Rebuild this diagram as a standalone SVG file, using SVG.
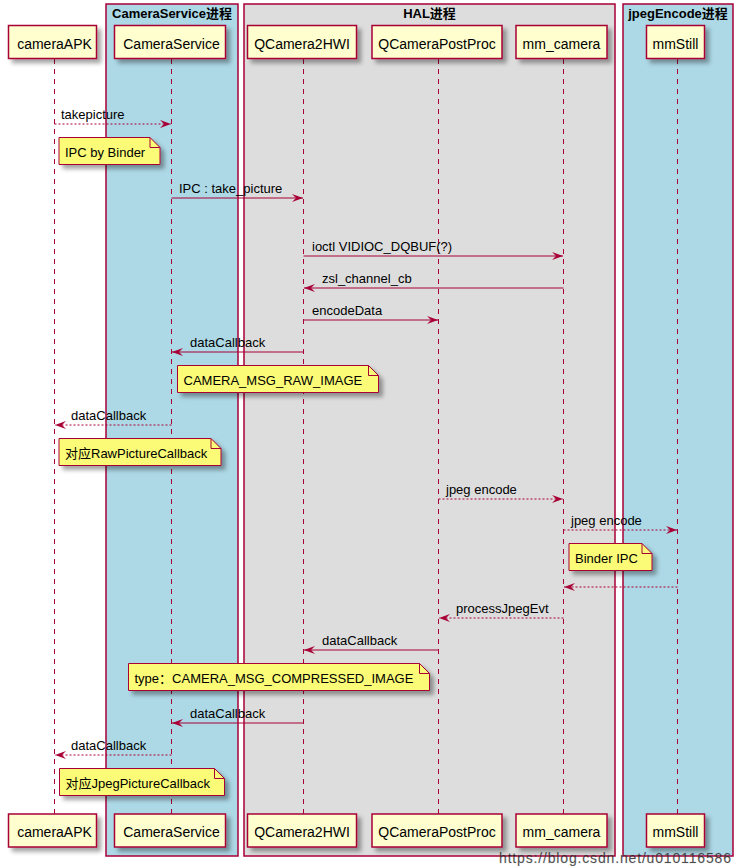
<svg xmlns="http://www.w3.org/2000/svg" width="742" height="866" viewBox="0 0 742 866">
<defs>
<filter id="sh" x="-10%" y="-20%" width="130%" height="160%">
<feGaussianBlur in="SourceAlpha" stdDeviation="2"/>
<feOffset dx="4" dy="4" result="b"/>
<feFlood flood-color="#000" flood-opacity="0.35"/>
<feComposite in2="b" operator="in"/>
<feMerge><feMergeNode/><feMergeNode in="SourceGraphic"/></feMerge>
</filter>
<marker id="ah" viewBox="0 0 12 10" refX="11" refY="5" markerUnits="userSpaceOnUse" markerWidth="12" markerHeight="10" orient="auto">
<path d="M0,1 L11,5 L0,9 L4,5 Z" fill="#A80036"/>
</marker>
</defs>
<style>
text{font-family:"Liberation Sans","Noto Sans CJK SC",sans-serif;fill:#000}
.grp{stroke:#A80036;stroke-width:1.5}
.gt{font-size:13px;font-weight:bold;text-anchor:middle}
.pbox{fill:#FEFECE;stroke:#A80036;stroke-width:1.5}
.pt{font-size:14px;text-anchor:middle}
.life{stroke:#A80036;stroke-width:1;stroke-dasharray:5,5}
.msg{stroke:#A80036;stroke-width:1;fill:none;marker-end:url(#ah)}
.async{stroke-dasharray:2,2}
.ml{font-size:13px}
.note{fill:#FBFB77;stroke:#A80036;stroke-width:1}
.fold{fill:none;stroke:#A80036;stroke-width:1}
.nt{font-size:13px}
</style>
<rect width="742" height="866" fill="#fff"/>
<g id="group-cameraservice">
<rect class="grp" x="106" y="4" width="132" height="852" fill="#ADD8E6"/>
<text class="gt" x="172" y="18">CameraService进程</text>
</g>
<g id="group-hal">
<rect class="grp" x="244" y="4" width="371" height="852" fill="#DDDDDD"/>
<text class="gt" x="429.5" y="18">HAL进程</text>
</g>
<g id="group-jpegencode">
<rect class="grp" x="623" y="4" width="110" height="852" fill="#ADD8E6"/>
<text class="gt" x="678" y="18">jpegEncode进程</text>
</g>
<g id="lifelines">
<line class="life" x1="54.5" y1="59" x2="54.5" y2="814"/>
<line class="life" x1="171.5" y1="59" x2="171.5" y2="814"/>
<line class="life" x1="303.5" y1="59" x2="303.5" y2="814"/>
<line class="life" x1="438.5" y1="59" x2="438.5" y2="814"/>
<line class="life" x1="563.5" y1="59" x2="563.5" y2="814"/>
<line class="life" x1="677.5" y1="59" x2="677.5" y2="814"/>
</g>
<g id="cameraAPK">
<rect class="pbox" filter="url(#sh)" x="8.5" y="25.5" width="88" height="33"/>
<text class="pt" x="54.5" y="48.5">cameraAPK</text>
<rect class="pbox" filter="url(#sh)" x="8.5" y="814" width="88" height="33"/>
<text class="pt" x="54.5" y="837">cameraAPK</text>
</g>
<g id="CameraService">
<rect class="pbox" filter="url(#sh)" x="114.5" y="25.5" width="111" height="33"/>
<text class="pt" x="171.5" y="48.5">CameraService</text>
<rect class="pbox" filter="url(#sh)" x="114.5" y="814" width="111" height="33"/>
<text class="pt" x="171.5" y="837">CameraService</text>
</g>
<g id="QCamera2HWI">
<rect class="pbox" filter="url(#sh)" x="247.5" y="25.5" width="109" height="33"/>
<text class="pt" x="302" y="48.5">QCamera2HWI</text>
<rect class="pbox" filter="url(#sh)" x="247.5" y="814" width="109" height="33"/>
<text class="pt" x="302" y="837">QCamera2HWI</text>
</g>
<g id="QCameraPostProc">
<rect class="pbox" filter="url(#sh)" x="372" y="25.5" width="130" height="33"/>
<text class="pt" x="437" y="48.5">QCameraPostProc</text>
<rect class="pbox" filter="url(#sh)" x="372" y="814" width="130" height="33"/>
<text class="pt" x="437" y="837">QCameraPostProc</text>
</g>
<g id="mm_camera">
<rect class="pbox" filter="url(#sh)" x="516" y="25.5" width="91" height="33"/>
<text class="pt" x="561.5" y="48.5">mm_camera</text>
<rect class="pbox" filter="url(#sh)" x="516" y="814" width="91" height="33"/>
<text class="pt" x="561.5" y="837">mm_camera</text>
</g>
<g id="mmStill">
<rect class="pbox" filter="url(#sh)" x="646.5" y="25.5" width="58" height="33"/>
<text class="pt" x="675.5" y="48.5">mmStill</text>
<rect class="pbox" filter="url(#sh)" x="646.5" y="814" width="58" height="33"/>
<text class="pt" x="675.5" y="837">mmStill</text>
</g>
<g id="connectors">
<line class="msg async" x1="54.5" y1="124" x2="171" y2="124"/>
<text class="ml" x="61" y="119">takepicture</text>
<line class="msg" x1="171.5" y1="198" x2="303" y2="198"/>
<text class="ml" x="179" y="193">IPC : take_picture</text>
<line class="msg" x1="303.5" y1="256" x2="563" y2="256"/>
<text class="ml" x="312" y="251">ioctl VIDIOC_DQBUF(?)</text>
<line class="msg" x1="563.5" y1="288" x2="304" y2="288"/>
<text class="ml" x="322" y="283">zsl_channel_cb</text>
<line class="msg" x1="303.5" y1="320" x2="438" y2="320"/>
<text class="ml" x="312" y="315">encodeData</text>
<line class="msg" x1="303.5" y1="352" x2="172" y2="352"/>
<text class="ml" x="190" y="347">dataCallback</text>
<line class="msg async" x1="171.5" y1="425" x2="55" y2="425"/>
<text class="ml" x="71" y="420">dataCallback</text>
<line class="msg async" x1="438.5" y1="499" x2="563" y2="499"/>
<text class="ml" x="446" y="494">jpeg encode</text>
<line class="msg async" x1="563.5" y1="530" x2="677" y2="530"/>
<text class="ml" x="571" y="525">jpeg encode</text>
<line class="msg async" x1="677.5" y1="587" x2="564" y2="587"/>
<line class="msg async" x1="563.5" y1="618" x2="439" y2="618"/>
<text class="ml" x="456" y="613">processJpegEvt</text>
<line class="msg" x1="438.5" y1="650" x2="304" y2="650"/>
<text class="ml" x="322" y="645">dataCallback</text>
<line class="msg" x1="303.5" y1="723" x2="172" y2="723"/>
<text class="ml" x="190" y="718">dataCallback</text>
<line class="msg async" x1="171.5" y1="755" x2="55" y2="755"/>
<text class="ml" x="71" y="750">dataCallback</text>
</g>
<g id="note-ipc-binder">
<path class="note" filter="url(#sh)" d="M59,137.5 H150 L160,147.5 V164.5 H59 Z"/>
<path class="fold" d="M150,137.5 V147.5 H160"/>
<text class="nt" x="65" y="157">IPC by Binder</text>
</g>
<g id="note-raw-image">
<path class="note" filter="url(#sh)" d="M177.5,365.5 H368.5 L378.5,375.5 V392.5 H177.5 Z"/>
<path class="fold" d="M368.5,365.5 V375.5 H378.5"/>
<text class="nt" x="183.5" y="385">CAMERA_MSG_RAW_IMAGE</text>
</g>
<g id="note-raw-callback">
<path class="note" filter="url(#sh)" d="M59,438.5 H211 L221,448.5 V465.5 H59 Z"/>
<path class="fold" d="M211,438.5 V448.5 H221"/>
<text class="nt" x="65" y="458">对应RawPictureCallback</text>
</g>
<g id="note-binder-ipc">
<path class="note" filter="url(#sh)" d="M569,543.5 H642 L652,553.5 V570.5 H569 Z"/>
<path class="fold" d="M642,543.5 V553.5 H652"/>
<text class="nt" x="575" y="563">Binder IPC</text>
</g>
<g id="note-compressed">
<path class="note" filter="url(#sh)" d="M128.5,663.5 H419.5 L429.5,673.5 V690.5 H128.5 Z"/>
<path class="fold" d="M419.5,663.5 V673.5 H429.5"/>
<text class="nt" x="134.5" y="683">type：CAMERA_MSG_COMPRESSED_IMAGE</text>
</g>
<g id="note-jpeg-callback">
<path class="note" filter="url(#sh)" d="M59.5,768.5 H214.5 L224.5,778.5 V795.5 H59.5 Z"/>
<path class="fold" d="M214.5,768.5 V778.5 H224.5"/>
<text class="nt" x="65.5" y="788">对应JpegPictureCallback</text>
</g>
<text x="499" y="863" font-size="14" fill="#ffffff" fill-opacity="0.75" stroke="#888" stroke-opacity="0.35" stroke-width="0.6" textLength="232">https://blog.csdn.net/u010116586</text>
</svg>
